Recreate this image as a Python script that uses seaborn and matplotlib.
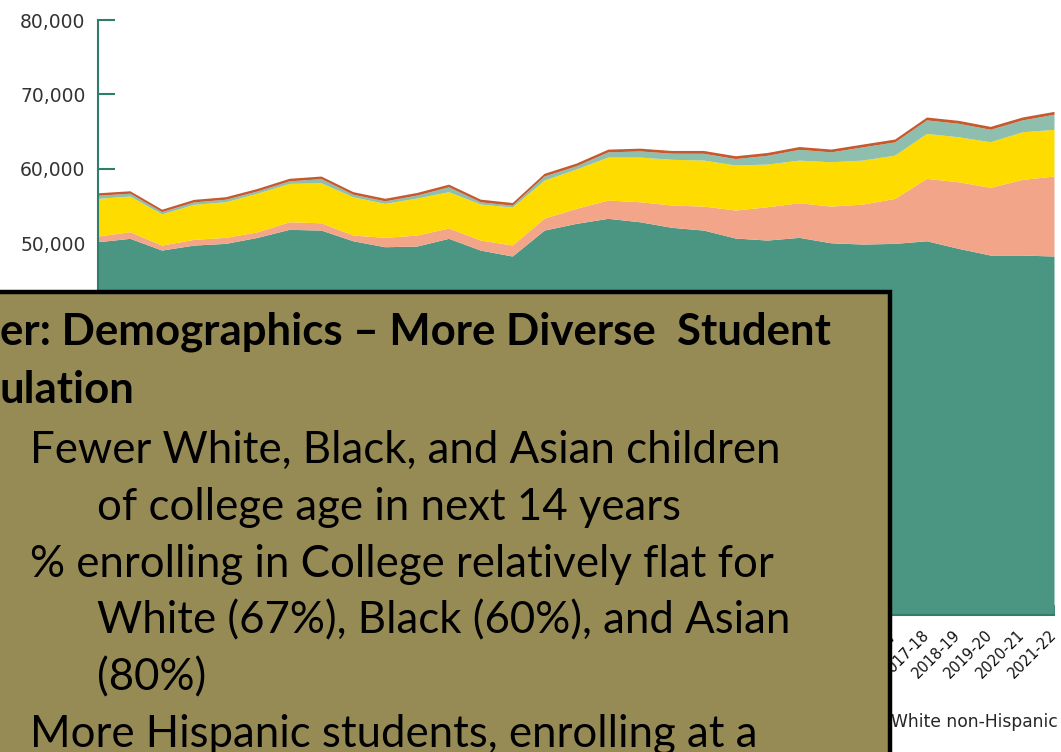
import matplotlib
matplotlib.use("Agg")
import matplotlib.pyplot as plt
from matplotlib.patches import Rectangle
from matplotlib.ticker import FuncFormatter
import seaborn as sns

# school years on the x axis
years = ["1991-92", "1992-93", "1993-94", "1994-95", "1995-96", "1996-97",
         "1997-98", "1998-99", "1999-00", "2000-01", "2001-02", "2002-03",
         "2003-04", "2004-05", "2005-06", "2006-07", "2007-08", "2008-09",
         "2009-10", "2010-11", "2011-12", "2012-13", "2013-14", "2014-15",
         "2015-16", "2016-17", "2017-18", "2018-19", "2019-20", "2020-21",
         "2021-22"]

# graduates by race / ethnicity
white = [50170, 50630, 49050, 49720, 49950, 50760, 51840, 51740, 50300, 49500,
         49590, 50630, 49050, 48250, 51740, 52640, 53320, 52860, 52110, 51740,
         50670, 50400, 50760, 50030, 49860, 49950, 50300, 49280, 48380, 48380,
         48250]
hispanic = [770, 890, 670, 770, 810, 750, 1020, 980, 770, 1260,
            1480, 1390, 1350, 1480, 1610, 2020, 2460, 2690, 3000, 3230,
            3770, 4480, 4650, 4940, 5380, 6050, 8390, 8960, 9110, 10180,
            10760]
black = [5070, 4800, 4200, 4710, 4790, 5200, 5160, 5380, 5150, 4570,
         4980, 4880, 4840, 5110, 5110, 5290, 5780, 6010, 6150, 6190,
         6050, 5740, 5740, 5960, 5920, 5820, 6050, 6050, 6130, 6400,
         6280]
asian = [420, 380, 300, 330, 340, 300, 340, 560, 340, 340,
         400, 660, 300, 250, 560, 430, 700, 830, 820, 910,
         870, 1180, 1450, 1330, 1780, 1780, 1820, 1820, 1680, 1600,
         2030]
amind = [330, 330, 330, 340, 340, 340, 350, 350, 350, 350,
         350, 360, 360, 360, 360, 370, 370, 370, 370, 380,
         380, 380, 380, 380, 380, 390, 390, 390, 390, 390,
         390]

legend_names = ["American Indian/Alaska Native", "Asian/Pacific Islander",
                "Black non-Hispanic", "Hispanic", "White non-Hispanic"]
y_ticks = [0, 10000, 20000, 30000, 40000, 50000, 60000, 70000, 80000]

title_lines = ["er: Demographics \u2013 More Diverse  Student", "ulation"]
body_lines = ["Fewer White, Black, and Asian children",
              "of college age in next 14 years",
              "% enrolling in College relatively flat for",
              "White (67%), Black (60%), and Asian",
              "(80%)",
              "More Hispanic students, enrolling at a"]

sns.set_theme(style="white")
plt.rcParams["font.family"] = ["DejaVu Sans"]

W, H = 1061, 752
fig = plt.figure(figsize=(W / 100, H / 100), dpi=100)
fig.patch.set_facecolor("white")
ax = fig.add_axes([98 / W, 1 - 614.7 / H, (1054 - 98) / W, (614.7 - 20) / H])

teal = "#2f7d6b"
x = list(range(len(years)))
polys = ax.stackplot(x, white, hispanic, black, asian, amind,
                     colors=["#4a9683", "#f3a58a", "#fedc00", "#8ebfae", "#c65a2e"],
                     linewidth=0)

ax.set_xlim(0, len(years) - 1)
ax.set_ylim(0, 80000)
ax.set_yticks(y_ticks)
ax.yaxis.set_major_formatter(FuncFormatter(lambda v, p: f"{int(v):,}"))
ax.set_xticks(x)
ax.set_xticklabels(years)
plt.setp(ax.get_xticklabels(), rotation=45, ha="right", va="center",
         rotation_mode="anchor")

sns.despine(ax=ax)
for side in ["left", "bottom"]:
    ax.spines[side].set_color(teal)
    ax.spines[side].set_linewidth(1.5)
ax.tick_params(axis="y", direction="in", length=12, width=1.5, color=teal,
               labelsize=13.5, labelcolor="#333333", pad=9, left=True)
ax.tick_params(axis="x", direction="in", length=7, width=1.2, color="#1f5e50",
               labelsize=10.5, labelcolor="#111111", pad=13, bottom=True)
ax.set_xlabel("")
ax.set_ylabel("")

leg = fig.legend(polys[::-1], legend_names, loc="center right",
                 bbox_to_anchor=(1058 / W, 1 - 722 / H), ncol=5, frameon=False,
                 fontsize=12.3, handlelength=1.0, handletextpad=0.6,
                 columnspacing=0.8, borderpad=0, borderaxespad=0)
leg.set_zorder(1)

# slide text box laid over the chart
box = Rectangle((-30 / W, -30 / H), (889.5 + 30) / W, (752 - 292 + 30) / H,
                transform=fig.transFigure, facecolor="#978b55",
                edgecolor="black", linewidth=3.2, zorder=10)
fig.add_artist(box)

fs = 31.5
fig.text(0 / W, 1 - 345 / H, title_lines[0], fontsize=fs, fontweight="bold",
         family="Lato", va="baseline", color="black", zorder=12)
fig.text(0 / W, 1 - 403 / H, title_lines[1], fontsize=fs, fontweight="bold",
         family="Lato", va="baseline", color="black", zorder=12)
body_x = [30, 97, 30, 97, 97, 30]
body_y = [463, 520, 577, 633, 690, 747]
for s, bx, by in zip(body_lines, body_x, body_y):
    fig.text(bx / W, 1 - by / H, s, fontsize=fs, family="Lato", va="baseline",
             color="black", zorder=12)

fig.savefig("out.png", dpi=100)
